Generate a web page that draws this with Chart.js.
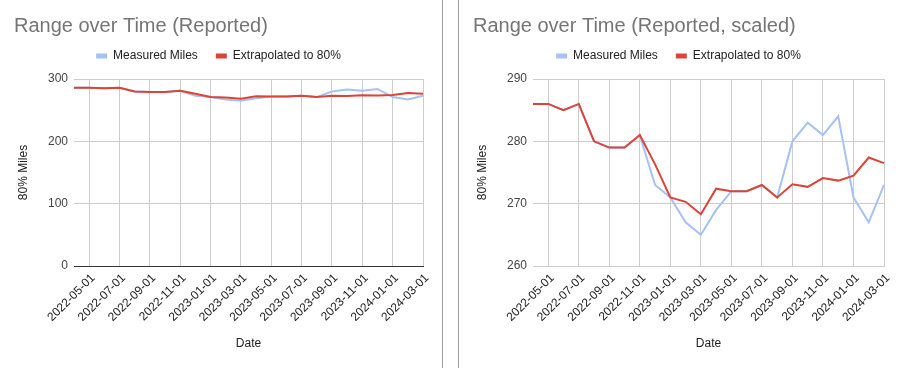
<!DOCTYPE html>
<html lang="en">
<head>
    <meta charset="UTF-8">
    <script src="https://cdn.jsdelivr.net/npm/chart.js"></script>
    <title>Range over Time</title>
    <style>
        body { margin: 0; background: #fff; }
        .panel { position: absolute; top: 0; height: 368px; }
        #leftPanel { left: 0; width: 442px; border-right: 1px solid #9e9e9e; }
        #rightPanel { left: 458px; width: 444px; border-left: 1px solid #9e9e9e; }
    </style>
</head>
<body>
    <div class="panel" id="leftPanel"><canvas id="chartFull"></canvas></div>
    <div class="panel" id="rightPanel"><canvas id="chartScaled"></canvas></div>
    <script>
        // monthly readings, 2022-04 .. 2024-03
        const dates = [
            "2022-04-01", "2022-05-01", "2022-06-01", "2022-07-01", "2022-08-01", "2022-09-01",
            "2022-10-01", "2022-11-01", "2022-12-01", "2023-01-01", "2023-02-01", "2023-03-01",
            "2023-04-01", "2023-05-01", "2023-06-01", "2023-07-01", "2023-08-01", "2023-09-01",
            "2023-10-01", "2023-11-01", "2023-12-01", "2024-01-01", "2024-02-01", "2024-03-01"
        ]
        const measuredMiles = [286, 286, 285, 286, 280, 279, 279, 281, 273, 271, 267, 265,
                               269, 272, 272, 273, 271, 280, 283, 281, 284, 271, 267, 273]
        const extrapolated80 = [286, 286, 285, 286, 280, 279, 279, 281, 276.3, 271, 270.3, 268.3,
                                272.4, 272, 272, 273, 271, 273.1, 272.7, 274.1, 273.7, 274.5, 277.4, 276.5]
        // only every other month gets a tick label
        const tickDates = ["2022-05-01", "2022-07-01", "2022-09-01", "2022-11-01", "2023-01-01", "2023-03-01",
                           "2023-05-01", "2023-07-01", "2023-09-01", "2023-11-01", "2024-01-01", "2024-03-01"]

        const FONT = "'Liberation Sans', Arial, sans-serif"

        // push the plot area a little further below the legend
        const legendGap = {
            id: "legendGap",
            beforeInit(chart) {
                const fit = chart.legend.fit
                chart.legend.fit = function () {
                    fit.bind(chart.legend)()
                    this.height += 7
                }
            }
        }

        function makeChart(id, title, yMin, yMax, baseColor) {
            const ctx = document.getElementById(id)
            return new Chart(ctx, {
                type: "line",
                data: {
                    labels: dates,
                    datasets: [{
                        label: "Measured Miles",
                        data: measuredMiles,
                        borderColor: "#a4c2f4",
                        backgroundColor: "#a4c2f4",
                        borderWidth: 2,
                        pointRadius: 0,
                        tension: 0,
                        order: 1
                    }, {
                        label: "Extrapolated to 80%",
                        data: extrapolated80,
                        borderColor: "#db4437",
                        backgroundColor: "#db4437",
                        borderWidth: 2,
                        pointRadius: 0,
                        tension: 0,
                        order: 0
                    }]
                },
                options: {
                    responsive: true,
                    maintainAspectRatio: false,
                    animation: false,
                    layout: { padding: { left: 14, right: 19, top: 0, bottom: 0 } },
                    plugins: {
                        title: {
                            display: true,
                            text: title,
                            align: "start",
                            color: "#757575",
                            font: { family: FONT, size: 20, weight: "normal" },
                            padding: { top: 14, bottom: -6 }
                        },
                        legend: {
                            position: "top",
                            labels: {
                                color: "#222",
                                font: { family: FONT, size: 12 },
                                boxWidth: 11,
                                boxHeight: 5,
                                padding: 18,
                                generateLabels: (chart) => Chart.defaults.plugins.legend.labels
                                    .generateLabels(chart)
                                    .map(l => ({ ...l, lineWidth: 0 }))
                                    .sort((a, b) => a.datasetIndex - b.datasetIndex)
                            }
                        },
                        tooltip: { enabled: false }
                    },
                    scales: {
                        x: {
                            grid: { color: "#ccc", drawTicks: false },
                            border: { color: baseColor, width: 1 },
                            ticks: {
                                autoSkip: false,
                                minRotation: 45,
                                maxRotation: 45,
                                padding: 5,
                                labelOffset: 4,
                                color: "#222",
                                font: { family: FONT, size: 12 },
                                callback: function (value) {
                                    const lbl = this.getLabelForValue(value)
                                    return tickDates.includes(lbl) ? lbl : null
                                }
                            },
                            title: {
                                display: true,
                                text: "Date",
                                color: "#222",
                                font: { family: FONT, size: 12 },
                                padding: { top: 4, bottom: 17 }
                            },
                            afterFit: (scale) => { scale.height = 102 }
                        },
                        y: {
                            min: yMin,
                            max: yMax,
                            grid: { color: "#ccc", drawTicks: false },
                            border: { display: false },
                            ticks: {
                                stepSize: yMin === 0 ? 100 : 10,
                                padding: 6,
                                color: "#444",
                                font: { family: FONT, size: 12 }
                            },
                            title: {
                                display: true,
                                text: "80% Miles",
                                color: "#222",
                                font: { family: FONT, size: 12 },
                                padding: { top: 2, bottom: 0 }
                            },
                            afterFit: (scale) => { scale.width = 60 }
                        }
                    }
                },
                plugins: [legendGap]
            })
        }

        makeChart("chartFull", "Range over Time (Reported)", 0, 300, "#333")
        makeChart("chartScaled", "Range over Time (Reported, scaled)", 260, 290, "#ccc")
    </script>
</body>
</html>
